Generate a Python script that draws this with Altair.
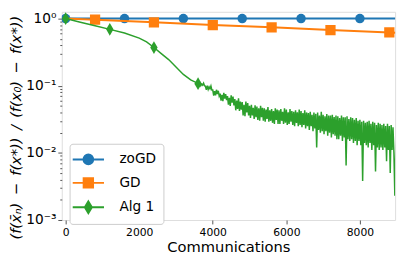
import altair as alt
import pandas as pd

# ---------------- data ----------------
series_names = ["zoGD", "GD", "Alg 1"]
series_colors = ["#1f77b4", "#ff7f0e", "#2ca02c"]

zogd_x = [0, 1600, 3200, 4800, 6400, 8000, 9000]
zogd_y = [1.0, 1.0, 1.0, 1.0, 1.0, 1.0, 1.0]
zogd_marker_x = [0, 1600, 3200, 4800, 6400, 8000]

gd_x = [0, 800, 2400, 4000, 5600, 7200, 8800, 9000]
gd_y = [1.0, 0.96, 0.88, 0.80, 0.74, 0.675, 0.62, 0.615]
gd_marker_x = [800, 2400, 4000, 5600, 7200, 8800]

alg_smooth_x = [0, 400, 800, 1200, 1600, 2000, 2200, 2400, 2600, 2800, 3000, 3200, 3400]
alg_smooth_y = [1.0, 0.88, 0.78, 0.69, 0.61, 0.51, 0.45, 0.37, 0.30, 0.245, 0.19, 0.147, 0.122]
alg_noisy_x = list(range(3600, 9001, 25))
alg_noisy_y = [
    0.108, 0.101, 0.110, 0.100, 0.106, 0.102, 0.109, 0.100,   # 3600
    0.098, 0.087, 0.100, 0.088, 0.096, 0.090, 0.099, 0.086,   # 3800
    0.086, 0.071, 0.083, 0.072, 0.087, 0.075, 0.084, 0.070,   # 4000
    0.076, 0.060, 0.073, 0.059, 0.078, 0.064, 0.075, 0.061,   # 4200
    0.070, 0.052, 0.066, 0.050, 0.072, 0.056, 0.069, 0.051,   # 4400
    0.063, 0.043, 0.060, 0.045, 0.065, 0.042, 0.058, 0.044,   # 4600
    0.057, 0.036, 0.052, 0.035, 0.058, 0.040, 0.055, 0.036,   # 4800
    0.050, 0.033, 0.052, 0.036, 0.047, 0.032, 0.051, 0.034,   # 5000
    0.049, 0.031, 0.046, 0.030, 0.050, 0.034, 0.047, 0.030,   # 5200
    0.046, 0.029, 0.044, 0.032, 0.048, 0.029, 0.043, 0.030,   # 5400
    0.045, 0.028, 0.042, 0.027, 0.046, 0.031, 0.044, 0.027,   # 5600
    0.043, 0.027, 0.045, 0.030, 0.041, 0.027, 0.046, 0.028,   # 5800
    0.044, 0.026, 0.040, 0.027, 0.045, 0.029, 0.042, 0.026,   # 6000
    0.041, 0.025, 0.043, 0.028, 0.040, 0.025, 0.044, 0.026,   # 6200
    0.042, 0.024, 0.039, 0.026, 0.043, 0.023, 0.040, 0.025,   # 6400
    0.039, 0.022, 0.041, 0.025, 0.037, 0.021, 0.040, 0.023,   # 6600
    0.038, 0.012, 0.040, 0.022, 0.036, 0.020, 0.041, 0.021,   # 6800
    0.037, 0.019, 0.035, 0.021, 0.038, 0.018, 0.036, 0.020,   # 7000
    0.036, 0.017, 0.037, 0.019, 0.034, 0.018, 0.036, 0.016,   # 7200
    0.035, 0.016, 0.033, 0.018, 0.036, 0.015, 0.034, 0.017,   # 7400
    0.034, 0.0065, 0.035, 0.016, 0.032, 0.015, 0.034, 0.016,  # 7600
    0.033, 0.014, 0.031, 0.015, 0.033, 0.013, 0.030, 0.015,   # 7800
    0.031, 0.013, 0.029, 0.0038, 0.030, 0.014, 0.028, 0.013,  # 8000
    0.029, 0.012, 0.030, 0.014, 0.027, 0.011, 0.029, 0.013,   # 8200
    0.028, 0.0053, 0.026, 0.012, 0.028, 0.011, 0.027, 0.012,  # 8400
    0.026, 0.011, 0.027, 0.012, 0.025, 0.0075, 0.027, 0.011,  # 8600
    0.025, 0.005, 0.026, 0.011, 0.024, 0.010, 0.0023, 0.012,  # 8800
    0.015,                                                    # 9000
]
alg_marker_x = [0, 1200, 2400, 3600]
alg_marker_y = [1.0, 0.69, 0.37, 0.107]

x_ticks = [0, 2000, 4000, 6000, 8000]
y_major = [0.001, 0.01, 0.1, 1.0]
y_major_exp = [-3, -2, -1, 0]
y_major_labels = ["10⁻³", "10⁻²", "10⁻¹", "10⁰"]
y_minor = [0.002, 0.003, 0.004, 0.005, 0.006, 0.007, 0.008, 0.009,
           0.02, 0.03, 0.04, 0.05, 0.06, 0.07, 0.08, 0.09,
           0.2, 0.3, 0.4, 0.5, 0.6, 0.7, 0.8, 0.9]
y_title = "(f(x̄ₙ)\u2002−\u2002f(x*))\u2002/\u2002(f(x₀)\u2002−\u2002f(x*))"

# ---------------- tables ----------------
n = min(len(alg_noisy_x), len(alg_noisy_y))
zogd = pd.DataFrame({"x": zogd_x, "y": zogd_y})
gd = pd.DataFrame({"x": gd_x, "y": gd_y})
alg = pd.DataFrame({"x": alg_smooth_x + alg_noisy_x[:n], "y": alg_smooth_y + alg_noisy_y[:n]})
zogd_m = pd.DataFrame({"x": zogd_marker_x, "y": [zogd_y[zogd_x.index(v)] for v in zogd_marker_x]})
gd_m = pd.DataFrame({"x": gd_marker_x, "y": [gd_y[gd_x.index(v)] for v in gd_marker_x]})
alg_m = pd.DataFrame({"x": alg_marker_x, "y": alg_marker_y})
legend_df = pd.DataFrame({"series": series_names, "x": [0, 0, 0], "y": [1.0, 1.0, 1.0]})

# ---------------- scales / axes ----------------
FONT = "DejaVu Sans"
AXC = "#555555"
xscale = alt.Scale(domain=[-106, 8957], nice=False, zero=False)
yscale = alt.Scale(type="log", domain=[0.001, 1.26], nice=False)

label_map = "{" + ",".join(f"'{e}':'{l}'" for e, l in zip(y_major_exp, y_major_labels)) + "}"
is_major = "abs(log(datum.value)/LN10 - round(log(datum.value)/LN10)) < 0.001"
y_label_expr = f"{is_major} ? {label_map}[''+round(log(datum.value)/LN10)] : ''"

xaxis = alt.Axis(values=x_ticks, format="d", labelFont=FONT, labelFontSize=11, labelColor="black",
                 labelFlush=False, tickSize=4, tickColor=AXC, domain=False, grid=False,
                 labelPadding=3, title="Communications", titleFont=FONT, titleFontSize=15,
                 titleFontWeight="normal", titleColor="black", titlePadding=2)
yaxis = alt.Axis(values=y_major + y_minor, labelExpr=y_label_expr, labelFont=FONT, labelFontSize=14,
                 labelColor="black", labelOverlap=False, labelFlush=False,
                 tickSize={"condition": {"test": is_major, "value": 4}, "value": 2},
                 tickColor=AXC, domain=False, grid=False, labelPadding=2,
                 title=y_title, titleFont=FONT, titleFontSize=15, titleY=118,
                 titleFontWeight="normal", titleFontStyle="italic", titleColor="black", titlePadding=2)

X = alt.X("x:Q", scale=xscale, axis=xaxis)
Y = alt.Y("y:Q", scale=yscale, axis=yaxis)


def line(df, color, width):
    return alt.Chart(df).mark_line(color=color, strokeWidth=width, clip=True).encode(x=X, y=Y)


diamond = "M0,-1L0.58,0L0,1L-0.58,0Z"
zl = line(zogd, series_colors[0], 2)
zp = alt.Chart(zogd_m).mark_point(shape="circle", filled=True, size=95, opacity=1,
                                  color=series_colors[0], clip=True).encode(x=X, y=Y)
gl = line(gd, series_colors[1], 2)
gp = alt.Chart(gd_m).mark_point(shape="square", filled=True, size=110, opacity=1,
                                color=series_colors[1], clip=True).encode(x=X, y=Y)
al = line(alg, series_colors[2], 1.5)
ap = alt.Chart(alg_m).mark_point(shape=diamond, filled=True, size=169, opacity=1,
                                 color=series_colors[2], clip=True).encode(x=X, y=Y)

leg_circle = "M-1.6,0H2.4M1.02,0A0.62,0.62,0,1,1,-0.22,0A0.62,0.62,0,1,1,1.02,0Z"
leg_square = "M-1.6,0H2.4M-0.2,-0.6H1V0.6H-0.2Z"
leg_diamond = "M-1.6,0H2.4M0.4,-0.75L0.85,0L0.4,0.75L-0.05,0Z"
cdom = alt.Scale(domain=series_names, range=series_colors)
leg = alt.Legend(orient="none", legendX=8, legendY=135, title=None,
                 labelFont=FONT, labelFontSize=14, labelColor="black",
                 symbolSize=256, symbolStrokeWidth=2, symbolOpacity=1,
                 labelOffset=26, rowPadding=6, padding=7,
                 fillColor="white", strokeColor="#cccccc", cornerRadius=3)
lg = alt.Chart(legend_df).mark_point(filled=True, opacity=0).encode(
    x=X, y=Y,
    fill=alt.Fill("series:N", scale=cdom, title=None, legend=leg),
    stroke=alt.Stroke("series:N", scale=cdom, title=None, legend=leg),
    shape=alt.Shape("series:N", scale=alt.Scale(domain=series_names,
                                                range=[leg_circle, leg_square, leg_diamond]),
                    title=None, legend=leg),
)

chart = alt.layer(zl, zp, gl, gp, al, ap, lg).properties(
    width=341, height=213, padding={"left": 1, "top": 0, "right": 4, "bottom": 2}
).configure_view(stroke=AXC, strokeWidth=1).configure(background="white")

chart.save("out.html", embed_options={"renderer": "svg", "actions": False})
